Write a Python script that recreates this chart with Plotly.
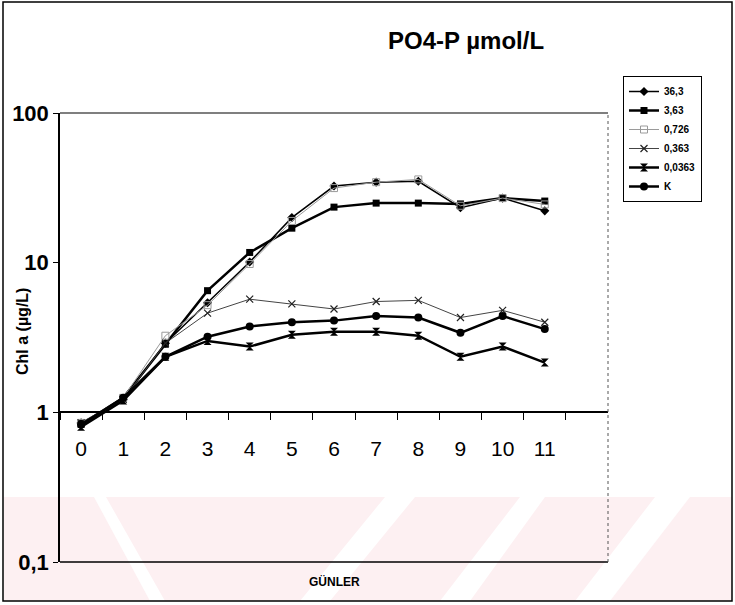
import plotly.graph_objects as go

# ---- data ----
days = [str(d) for d in range(12)]
s_36_3 = [0.85, 1.22, 2.9, 5.4, 10.1, 20, 32.5, 34.5, 35, 23.3, 27, 22.2]
s_3_63 = [0.83, 1.25, 2.85, 6.5, 11.7, 17, 23.5, 25, 25, 24.7, 27, 25.8]
s_0_726 = [0.85, 1.25, 3.25, 5.2, 9.8, 19, 31.5, 34.5, 36, 24, 27, 24.5]
s_0_363 = [0.85, 1.22, 2.9, 4.6, 5.7, 5.3, 4.9, 5.5, 5.6, 4.3, 4.8, 4.0]
s_0_0363 = [0.8, 1.2, 2.35, 3.0, 2.75, 3.3, 3.45, 3.45, 3.25, 2.35, 2.75, 2.15]
s_K = [0.83, 1.25, 2.35, 3.2, 3.75, 4.0, 4.1, 4.4, 4.3, 3.4, 4.4, 3.6]

series_names = ["36,3", "3,63", "0,726", "0,363", "0,0363", "K"]
y_tickvals = [0.1, 1, 10, 100]
y_ticktext = ["0,1", "1", "10", "100"]

BOLDF = "Liberation Sans, Arial, sans-serif"
ARIAL = "Liberation Sans, Arial, sans-serif"

W, H = 735, 605
L, R, T, B = 60, 127, 113, 43
PW, PH = W - L - R, H - T - B


def px(x):
    return (x - L) / PW


def py(y):
    return (H - B - y) / PH


fig = go.Figure()

styles = [
    (s_36_3, dict(color="black", width=1.5), dict(symbol="diamond", size=7, color="black")),
    (s_3_63, dict(color="black", width=2.5), dict(symbol="square", size=7, color="black")),
    (s_0_726, dict(color="#9a9a9a", width=1), dict(symbol="square-open", size=7, color="#9a9a9a")),
    (s_0_363, dict(color="#444444", width=1), dict(symbol="x-thin-open", size=7, color="#222222", line=dict(width=1.2, color="#222222"))),
    (s_0_0363, dict(color="black", width=2.5), dict(symbol="hourglass", size=8, color="black")),
    (s_K, dict(color="black", width=2.5), dict(symbol="circle", size=8, color="black")),
]
for name, (vals, ln, mk) in zip(series_names, styles):
    fig.add_trace(go.Scatter(x=days, y=vals, name=name, mode="lines+markers",
                             line=ln, marker=mk))

shapes = []
# faint pink watermark stripes (background decoration)
pink_polys = [
    [(4, 497), (94, 497), (150, 601), (4, 601)],
    [(106, 497), (385, 497), (300, 601), (165, 601)],
    [(415, 497), (520, 497), (440, 601), (330, 601)],
    [(545, 497), (655, 497), (575, 601), (470, 601)],
    [(690, 497), (732, 497), (732, 601), (610, 601)],
]
for poly in pink_polys:
    path = "M " + " L ".join(f"{px(a):.4f},{py(b):.4f}" for a, b in poly) + " Z"
    shapes.append(dict(type="path", path=path, xref="paper", yref="paper",
                       fillcolor="#fdf0f2", line=dict(width=0), layer="below"))

# plot frame
shapes.append(dict(type="line", xref="paper", yref="paper", x0=0, x1=1, y0=1, y1=1,
                   line=dict(color="black", width=1.2)))
shapes.append(dict(type="line", xref="paper", yref="paper", x0=0, x1=1, y0=0, y1=0,
                   line=dict(color="black", width=1.5)))
shapes.append(dict(type="line", xref="paper", yref="paper", x0=1, x1=1, y0=0, y1=1,
                   line=dict(color="#555555", width=1, dash="dot")))
# outer image border
shapes.append(dict(type="rect", xref="paper", yref="paper",
                   x0=px(3), x1=px(732), y0=py(601), y1=py(2),
                   line=dict(color="black", width=1.5)))

fig.update_layout(
    width=W, height=H,
    margin=dict(l=L, r=R, t=T, b=B, pad=0),
    paper_bgcolor="white", plot_bgcolor="rgba(0,0,0,0)",
    shapes=shapes,
    showlegend=True,
    legend=dict(x=px(623), y=py(76), xanchor="left", yanchor="top",
                bordercolor="black", borderwidth=1, bgcolor="white",
                font=dict(family=BOLDF, size=10, color="black", weight="bold"),
                tracegroupgap=0, itemwidth=30),
    xaxis=dict(type="category", range=[-0.5, 12.5], anchor="free", position=1 / 3,
               showline=True, linecolor="black", linewidth=1.5,
               ticks="outside", ticklen=7, tickcolor="black", tickwidth=1,
               tickson="boundaries", showgrid=False, zeroline=False,
               tickfont=dict(family=ARIAL, size=21, color="black"),
               ticklabelstandoff=18),
    yaxis=dict(type="log", range=[-1, 2], tickvals=y_tickvals, ticktext=y_ticktext,
               showline=True, linecolor="black", linewidth=1.5,
               ticks="outside", ticklen=5, tickcolor="black",
               showgrid=False, zeroline=False,
               tickfont=dict(family=BOLDF, size=22, color="black", weight="bold")),
    annotations=[
        dict(text="PO4-P µmol/L", xref="paper", yref="paper", x=px(466), y=py(40),
             xanchor="center", yanchor="middle",
             showarrow=False, font=dict(family=BOLDF, size=24, color="black", weight="bold")),
        dict(text="GÜNLER", xref="paper", yref="paper", x=px(334), y=py(581),
             xanchor="center", yanchor="middle",
             showarrow=False, font=dict(family=BOLDF, size=12, color="black", weight="bold")),
        dict(text="Chl a (µg/L)", xref="paper", yref="paper", x=px(22), y=py(332),
             xanchor="center", yanchor="middle",
             textangle=-90, showarrow=False,
             font=dict(family=ARIAL, size=16, color="black", weight="bold")),
    ],
)

fig.write_html("out.html")
